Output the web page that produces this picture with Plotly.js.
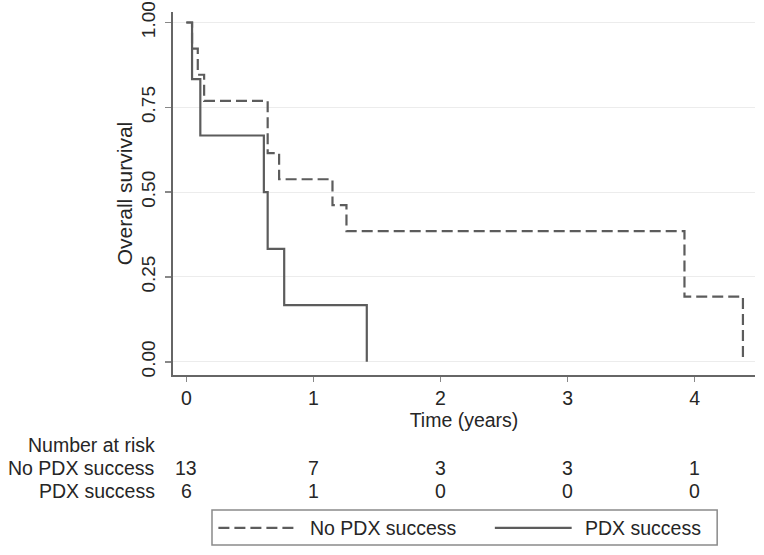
<!DOCTYPE html>
<html>
<head>
<meta charset="utf-8">
<script src="https://cdn.plot.ly/plotly-3.0.1.min.js"></script>
<style>html,body{margin:0;padding:0;background:#fff;}#chart{width:764px;height:555px;}</style>
</head>
<body>
<div id="chart"></div>
<script>
// Kaplan-Meier step data (time in years, survival probability)
const noPdxTimes = [0, 0.045, 0.09, 0.14, 0.64, 0.73, 1.15, 1.26, 3.92, 4.38];
const noPdxSurv  = [1, 0.923, 0.846, 0.769, 0.615, 0.538, 0.462, 0.385, 0.192, 0];
const pdxTimes   = [0, 0.045, 0.11, 0.61, 0.64, 0.77, 1.42];
const pdxSurv    = [1, 0.833, 0.667, 0.5, 0.333, 0.167, 0];

// Number at risk table
const riskTimes   = [0, 1, 2, 3, 4];
const noPdxRisk   = [13, 7, 3, 3, 1];
const pdxRisk     = [6, 1, 0, 0, 0];
const groupLabels = ["No PDX success", "PDX success"];

const yTickVals = [0, 0.25, 0.5, 0.75, 1];
const yTickText = ["0.00", "0.25", "0.50", "0.75", "1.00"];
const xTickVals = [0, 1, 2, 3, 4];

const FONT = '"Liberation Sans", Arial, sans-serif';
const TXT = '#262626';
const LINE = '#5c5c5c';
const FS = 19.5;

const traces = [
  {x: noPdxTimes, y: noPdxSurv, mode: 'lines', line: {shape: 'hv', color: LINE, width: 2.2, dash: '11px,5px'}, name: groupLabels[0], showlegend: false, hoverinfo: 'skip'},
  {x: pdxTimes, y: pdxSurv, mode: 'lines', line: {shape: 'hv', color: LINE, width: 2.2}, name: groupLabels[1], showlegend: false, hoverinfo: 'skip'}
];

const ann = [];
const yRowNo = -0.257, yRowPdx = -0.319;
const f = {family: FONT, size: FS, color: TXT};
ann.push({xref: 'paper', yref: 'paper', x: -0.027, y: -0.193, text: 'Number at risk', showarrow: false, xanchor: 'right', yanchor: 'middle', font: f});
ann.push({xref: 'paper', yref: 'paper', x: -0.027, y: yRowNo, text: groupLabels[0], showarrow: false, xanchor: 'right', yanchor: 'middle', font: f});
ann.push({xref: 'paper', yref: 'paper', x: -0.027, y: yRowPdx, text: groupLabels[1], showarrow: false, xanchor: 'right', yanchor: 'middle', font: f});
riskTimes.forEach((t, i) => {
  ann.push({xref: 'x', yref: 'paper', x: t, y: yRowNo, text: String(noPdxRisk[i]), showarrow: false, xanchor: 'center', yanchor: 'middle', font: f});
  ann.push({xref: 'x', yref: 'paper', x: t, y: yRowPdx, text: String(pdxRisk[i]), showarrow: false, xanchor: 'center', yanchor: 'middle', font: f});
});
// legend text
const legY = -0.421;
ann.push({xref: 'paper', yref: 'paper', x: 0.232, y: legY, text: groupLabels[0], showarrow: false, xanchor: 'left', yanchor: 'middle', font: f});
ann.push({xref: 'paper', yref: 'paper', x: 0.705, y: legY, text: groupLabels[1], showarrow: false, xanchor: 'left', yanchor: 'middle', font: f});

const shapes = [
  {type: 'rect', xref: 'paper', yref: 'paper', x0: 0.067, x1: 0.935, y0: -0.468, y1: -0.372, line: {color: '#8a8a8a', width: 1.5}, fillcolor: 'rgba(0,0,0,0)'},
  {type: 'line', xref: 'paper', yref: 'paper', x0: 0.078, x1: 0.213, y0: legY, y1: legY, line: {color: LINE, width: 2.2, dash: '11px,5px'}},
  {type: 'line', xref: 'paper', yref: 'paper', x0: 0.553, x1: 0.685, y0: legY, y1: legY, line: {color: LINE, width: 2.2}}
];

const layout = {
  width: 764, height: 555,
  margin: {l: 173, r: 9, t: 12, b: 180},
  paper_bgcolor: '#ffffff', plot_bgcolor: '#ffffff',
  showlegend: false,
  font: f,
  xaxis: {
    range: [-0.105, 4.475], tickvals: xTickVals, ticktext: xTickVals.map(String),
    showline: true, linecolor: '#666', linewidth: 2, ticks: 'outside', ticklen: 5, tickcolor: '#888', tickwidth: 1.5,
    showgrid: false, zeroline: false,
    tickfont: f,
    title: {text: 'Time (years)', font: f, standoff: 1}
  },
  yaxis: {
    range: [-0.039, 1.031], tickvals: yTickVals, ticktext: yTickText, tickangle: -90,
    showline: true, linecolor: '#666', linewidth: 2, ticks: 'outside', ticklen: 6, tickcolor: '#888', tickwidth: 1.5,
    showgrid: true, gridcolor: '#ececec', gridwidth: 1, zeroline: false,
    tickfont: {family: FONT, size: 19, color: TXT}, ticklabelstandoff: 2,
    title: {text: 'Overall survival', font: {family: FONT, size: 21, color: TXT}, standoff: 0}
  },
  annotations: ann,
  shapes: shapes
};

Plotly.newPlot('chart', traces, layout, {staticPlot: true, displayModeBar: false});
</script>
</body>
</html>
